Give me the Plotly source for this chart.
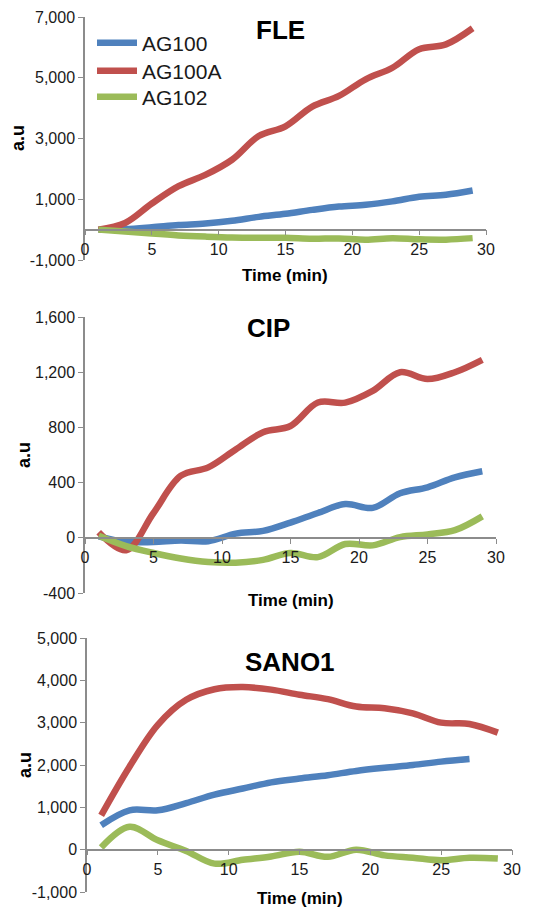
import plotly.graph_objects as go

# The page places the figure 8px in from the top-left corner (body margin),
# so the figure is drawn 8px smaller and reference pixel positions are shifted.
PAGE_W, PAGE_H = 555, 909
OFF = 8
W, H = PAGE_W - OFF, PAGE_H - OFF


def fx(px):
    return (px - OFF) / W


def fy(py):
    return 1 - (py - OFF) / H


time = [1, 3, 5, 7, 9, 11, 13, 15, 17, 19, 21, 23, 25, 27, 29]
time_short = [1, 3, 5, 7, 9, 11, 13, 15, 17, 19, 21, 23, 25, 27]

fle_ag100 = [0, 20, 80, 150, 200, 290, 420, 520, 650, 760, 820, 930, 1080, 1150, 1290]
fle_ag100a = [0, 220, 860, 1430, 1800, 2300, 3080, 3400, 4050, 4400, 4950, 5330, 5940, 6100, 6630]
fle_ag102 = [0, -60, -130, -190, -230, -260, -270, -270, -300, -290, -330, -280, -320, -330, -280]

cip_ag100 = [10, -30, -30, -20, -25, 30, 50, 110, 180, 245, 217, 323, 366, 438, 482]
cip_ag100a = [40, -90, 180, 450, 510, 640, 765, 810, 980, 980, 1065, 1200, 1150, 1200, 1290]
cip_ag102 = [15, -60, -110, -150, -175, -180, -160, -110, -140, -45, -55, 5, 25, 55, 155]

sano_ag100 = [577, 930, 930, 1100, 1300, 1445, 1590, 1680, 1760, 1860, 1935, 2000, 2080, 2140]
sano_ag100a = [810, 1960, 2950, 3540, 3790, 3840, 3780, 3660, 3555, 3380, 3340, 3220, 3000, 2970, 2765]
sano_ag102 = [50, 540, 220, -30, -330, -240, -160, -50, -170, 0, -135, -190, -250, -190, -210]

series_names = ["AG100", "AG100A", "AG102"]
colors = ["#4F81BD", "#C0504D", "#9BBB59"]

panel_titles = ["FLE", "CIP", "SANO1"]
x_ticks = [0, 5, 10, 15, 20, 25, 30]
y_ticks = [
    [-1000, 1000, 3000, 5000, 7000],
    [-400, 0, 400, 800, 1200, 1600],
    [-1000, 0, 1000, 2000, 3000, 4000, 5000],
]
y_ticktext = [
    ["-1,000", "1,000", "3,000", "5,000", "7,000"],
    ["-400", "0", "400", "800", "1,200", "1,600"],
    ["-1,000", "0", "1,000", "2,000", "3,000", "4,000", "5,000"],
]

panels = [
    (time, fle_ag100, time, fle_ag100a, time, fle_ag102),
    (time, cip_ag100, time, cip_ag100a, time, cip_ag102),
    (time_short, sano_ag100, time, sano_ag100a, time, sano_ag102),
]

# pixel geometry of each plot area in the reference: (x_left, x_right, y_top, y_bottom)
boxes = [(85, 486, 17, 260), (85, 496, 317, 593), (87, 512, 638, 892)]

fig = go.Figure()
layout = dict(
    width=W, height=H, margin=dict(l=0, r=0, t=0, b=0, autoexpand=False),
    paper_bgcolor="white", plot_bgcolor="white",
    font=dict(family="Liberation Sans, Arial", color="#000"),
)
axis_col = "#8C8C8C"
annotations = []
legend_names = ["legend", "legend2", "legend3"]

for i in range(3):
    xa = "x" if i == 0 else f"x{i+1}"
    ya = "y" if i == 0 else f"y{i+1}"
    xl, xr, yt, yb = boxes[i]
    xdom = [fx(xl), fx(xr)]
    ydom = [fy(yb), fy(yt)]
    yr = [y_ticks[i][0], y_ticks[i][-1]]
    zero_pos = ydom[0] + (0 - yr[0]) / (yr[1] - yr[0]) * (ydom[1] - ydom[0])
    d = panels[i]
    for k in range(3):
        fig.add_trace(go.Scatter(
            x=d[2 * k], y=d[2 * k + 1], mode="lines", name=series_names[k],
            line=dict(color=colors[k], width=6.5, shape="spline", smoothing=1.0),
            xaxis=xa, yaxis=ya, showlegend=(i == 0), legend=legend_names[k],
            cliponaxis=False,
        ))
    layout["xaxis" if i == 0 else f"xaxis{i+1}"] = dict(
        domain=xdom, range=[0, 30], anchor="free", position=zero_pos,
        tickvals=x_ticks, ticks="outside", ticklen=5, tickcolor=axis_col,
        showline=True, linecolor=axis_col, linewidth=1.5, showgrid=False,
        zeroline=False, tickfont=dict(size=16, color="#1a1a1a"),
    )
    layout["yaxis" if i == 0 else f"yaxis{i+1}"] = dict(
        domain=ydom, range=yr, anchor=xa,
        tickvals=y_ticks[i], ticktext=y_ticktext[i], ticks="outside", ticklen=5,
        tickcolor=axis_col, showline=True, linecolor=axis_col, linewidth=1.5,
        showgrid=False, zeroline=False, tickfont=dict(size=16, color="#1a1a1a"),
    )

title_pos = [(280, 30), (268, 328), (290, 662)]
au_pos = [(18, 138), (24, 455), (25, 765)]
time_pos = [(285, 275), (291, 600), (300, 898)]
for i in range(3):
    annotations.append(dict(text=f"<b>{panel_titles[i]}</b>", x=fx(title_pos[i][0]),
                            y=fy(title_pos[i][1]), xref="paper", yref="paper",
                            showarrow=False, font=dict(size=26, color="#000"),
                            xanchor="center", yanchor="middle"))
    annotations.append(dict(text="<b>a.u</b>", x=fx(au_pos[i][0]), y=fy(au_pos[i][1]),
                            xref="paper", yref="paper", showarrow=False, textangle=-90,
                            font=dict(size=18, color="#000"), xanchor="center", yanchor="middle"))
    annotations.append(dict(text="<b>Time (min)</b>", x=fx(time_pos[i][0]),
                            y=fy(time_pos[i][1]), xref="paper", yref="paper",
                            showarrow=False, font=dict(size=17, color="#000"),
                            xanchor="center", yanchor="middle"))

layout["annotations"] = annotations
legend_y = [43, 71, 97]
for k in range(3):
    layout[legend_names[k]] = dict(
        x=fx(92), y=fy(legend_y[k]), xanchor="left", yanchor="middle",
        font=dict(size=21, color="#1a1a1a"), bgcolor="rgba(0,0,0,0)",
        itemwidth=40,
    )
fig.update_layout(**layout)
fig.write_html("out.html")
